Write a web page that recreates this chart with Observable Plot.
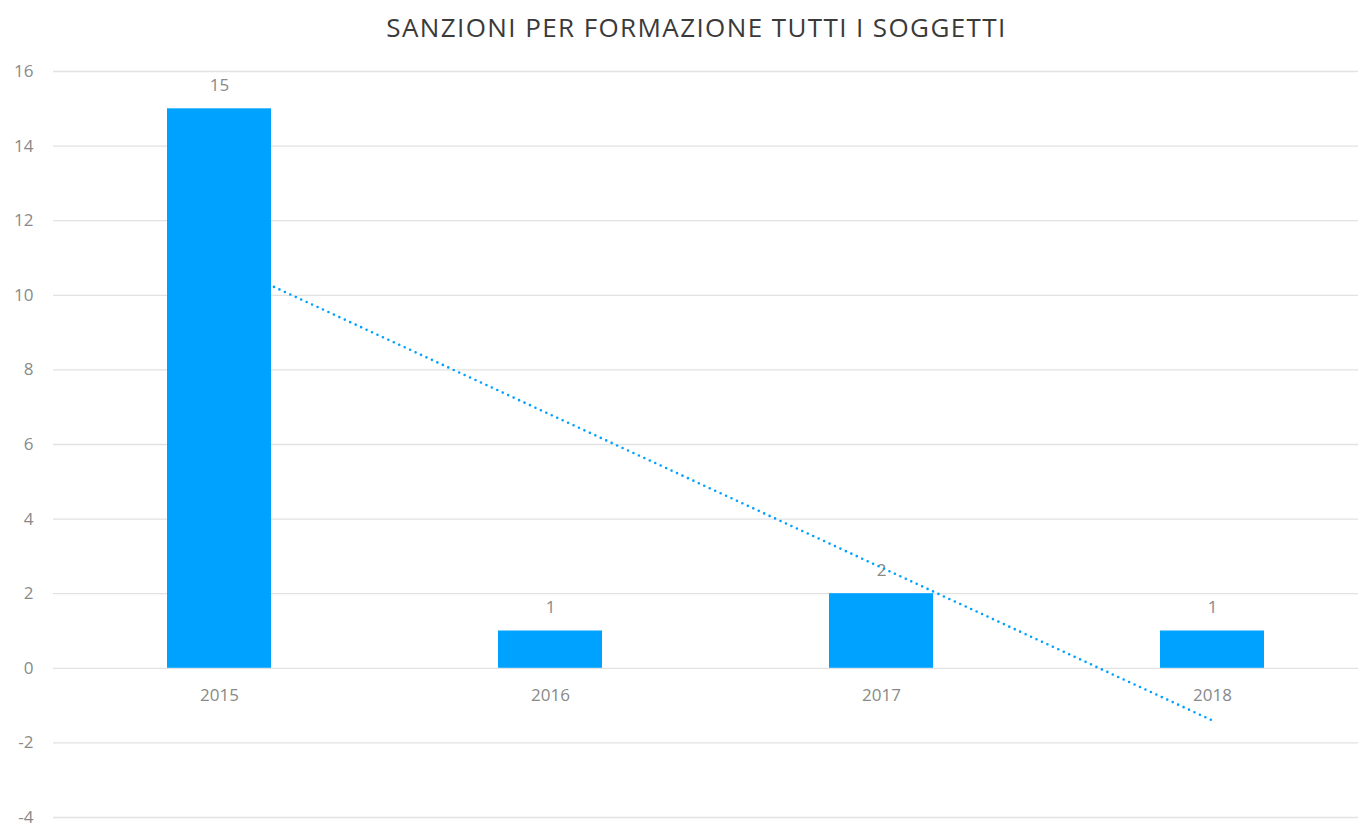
<!DOCTYPE html>
<html>
<head>
<meta charset="utf-8">
<script src="https://cdn.jsdelivr.net/npm/d3@7"></script>
<script src="https://cdn.jsdelivr.net/npm/@observablehq/plot@0.6"></script>
<style>
  html, body { margin: 0; padding: 0; background: #fff; overflow: hidden; width: 1358px; height: 825px; }
  #wrap { position: relative; width: 1358px; height: 825px; overflow: hidden; }
  #title { position: absolute; top: 9px; left: 0; width: 1393px; text-align: center; white-space: nowrap;
    font-family: "Open Sans", "Liberation Sans", sans-serif; font-size: 26px; letter-spacing: 1.4px; color: #3a3a3a; }
  #chart { position: absolute; top: 0; left: 0; width: 1377px; }
  #chart svg { max-width: none !important; display: block; }
</style>
</head>
<body>
<div id="wrap">
  <div id="chart"></div>
  <div id="title">SANZIONI PER FORMAZIONE TUTTI I SOGGETTI</div>
</div>
<script>
const years = ["2015", "2016", "2017", "2018"];
const values = [15, 1, 2, 1];
const yTicks = [-4, -2, 0, 2, 4, 6, 8, 10, 12, 14, 16];

const data = years.map((year, i) => ({year, value: values[i]}));

// Linear trend line (least squares on index)
const xs = values.map((_, i) => i + 1);
const mx = d3.mean(xs), my = d3.mean(values);
const slope = d3.sum(xs.map((x, i) => (x - mx) * (values[i] - my))) / d3.sum(xs.map(x => (x - mx) ** 2));
const intercept = my - slope * mx;
const trend = years.map((year, i) => ({year, value: intercept + slope * (i + 1)}));

const barColor = "#00a2ff";
const textColor = "#898989";

const chart = Plot.plot({
  width: 1377,
  height: 825,
  marginLeft: 53,
  marginRight: 0,
  marginTop: 71,
  marginBottom: 8,
  style: { fontFamily: "'Open Sans', 'Liberation Sans', sans-serif", fontSize: "17px", color: textColor, background: "#fff" },
  x: { domain: years, paddingInner: 0.686, paddingOuter: 0.343, axis: null },
  y: { domain: [-4, 16], axis: null },
  marks: [
    Plot.ruleY(yTicks, { stroke: "#e2e2e2", strokeWidth: 1.3 }),
    Plot.text(yTicks, { y: d => d, text: d => String(d), frameAnchor: "left", textAnchor: "end", dx: -20, fill: textColor, fontSize: 17 }),
    Plot.barY(data, { x: "year", y: "value", fill: barColor }),
    Plot.text(data, { x: "year", y: "value", text: d => String(d.value), dy: -23, fill: textColor, fontSize: 17 }),
    Plot.text(years, { x: d => d, y: 0, text: d => d, dy: 27, fill: textColor, fontSize: 17 }),
    Plot.line(trend, { x: "year", y: "value", stroke: barColor, strokeWidth: 2.6, strokeDasharray: "0,6", strokeLinecap: "round" })
  ]
});
document.getElementById("chart").appendChild(chart);
</script>
</body>
</html>
